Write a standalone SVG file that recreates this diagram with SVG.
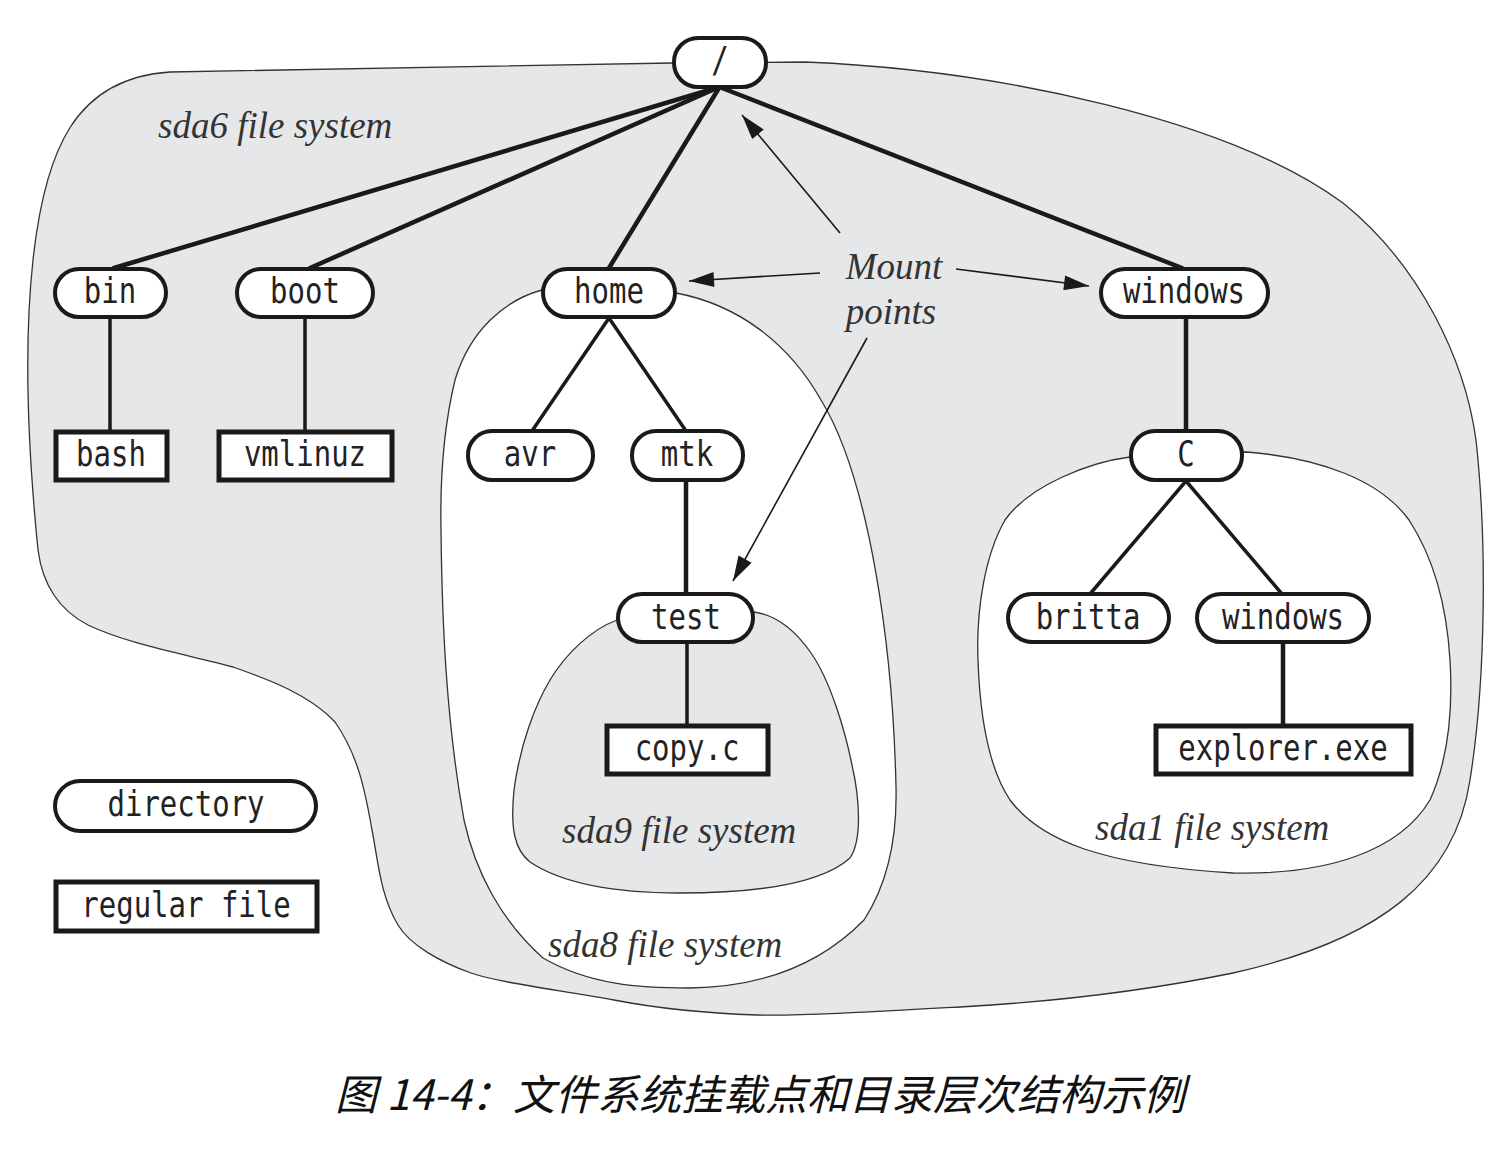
<svg xmlns="http://www.w3.org/2000/svg" width="1504" height="1149" viewBox="0 0 1504 1149">
<defs>
<style>
.region{stroke:#333;stroke-width:1.3;}
.gray{fill:#e6e7e9;}
.white{fill:#fff;}
.edge{stroke:#1a1a1a;stroke-width:4.5;fill:none;stroke-linecap:round;}
.edge2{stroke:#1a1a1a;stroke-width:3.5;fill:none;stroke-linecap:round;}
.arrow{stroke:#1a1a1a;stroke-width:1.6;fill:none;}
.dir{fill:#fff;stroke:#1a1a1a;stroke-width:4;}
.file{fill:#fff;stroke:#1a1a1a;stroke-width:5;}
.lbl{font-family:"DejaVu Sans Mono","Liberation Mono",monospace;font-size:29px;fill:#222;text-anchor:middle;}
.fs{font-family:"Liberation Serif","Times New Roman",serif;font-style:italic;font-size:37px;fill:#333;}
.cap{font-family:"Noto Sans CJK SC","Noto Sans",sans-serif;font-style:italic;font-size:42px;fill:#111;text-anchor:middle;}
</style>
<marker id="ah" viewBox="0 0 20 12" refX="20" refY="6" markerWidth="26" markerHeight="15" orient="auto" markerUnits="userSpaceOnUse">
<path d="M0,0 L20,6 L0,12 z" fill="#1a1a1a"/>
</marker>
</defs>
<rect width="1504" height="1149" fill="#fff"/>

<g id="regions">
<path id="sda6" class="region gray" d="M170,72 L672,63 L805,62 C1000,70 1230,120 1343,203 C1420,265 1465,360 1476,440 C1487,540 1486,680 1470,780 C1455,880 1380,940 1233,973 C1150,990 1050,1002 960,1007 C870,1012 800,1016 757,1015 C700,1013 650,1007 614,1000 C560,990 500,983 471,973 C440,962 410,945 398,925 C380,895 378,860 372,830 C365,790 358,755 335,722 C310,695 270,680 233,667 C190,655 130,645 88,625 C55,608 42,580 38,550 C30,470 22,360 33,260 C45,150 75,78 170,72 Z"/>
<path id="sda8" class="region white" d="M542,290 C505,300 470,330 455,380 C443,430 440,480 441,530 C442,620 446,720 464,820 C475,870 500,920 543,958 C590,985 640,988 690,988 C760,987 820,965 864,920 C890,880 897,830 896,787 C893,650 870,480 821,400 C790,345 740,305 676,293 Z"/>
<path id="sda9" class="region gray" d="M617,620 C590,630 565,655 550,680 C535,705 520,745 514,790 C510,830 515,850 530,862 C560,882 610,893 680,893 C750,893 820,885 850,858 C862,840 860,800 852,765 C845,730 830,680 811,653 C795,630 775,615 754,612 Z"/>
<path id="sda1" class="region white" d="M1130,457 C1090,462 1030,485 1005,520 C985,555 976,610 978,660 C980,720 990,770 1010,800 C1040,840 1100,865 1233,873 C1330,875 1400,850 1430,800 C1448,760 1453,710 1450,660 C1447,610 1435,560 1409,520 C1380,480 1320,458 1247,452 Z"/>
</g>

<g id="region-labels">
<text class="fs" x="158" y="138">sda6 file system</text>
<text class="fs" x="562" y="843">sda9 file system</text>
<text class="fs" x="548" y="957">sda8 file system</text>
<text class="fs" x="1095" y="840">sda1 file system</text>
<text class="fs" x="894" y="279" text-anchor="middle">Mount</text>
<text class="fs" x="891" y="324" text-anchor="middle">points</text>
</g>

<g id="connectors">
<line class="edge" x1="716" y1="88" x2="114" y2="268"/>
<line class="edge" x1="717" y1="88" x2="310" y2="268"/>
<line class="edge" x1="719" y1="88" x2="609" y2="268"/>
<line class="edge" x1="722" y1="88" x2="1182" y2="268"/>
<line class="edge2" x1="110" y1="318" x2="110" y2="431"/>
<line class="edge2" x1="305" y1="318" x2="305" y2="431"/>
<line class="edge2" x1="609" y1="318" x2="532" y2="431"/>
<line class="edge2" x1="609" y1="318" x2="686" y2="431"/>
<line class="edge" x1="686" y1="481" x2="686" y2="594"/>
<line class="edge2" x1="687" y1="643" x2="687" y2="726"/>
<line class="edge" x1="1186" y1="318" x2="1186" y2="431"/>
<line class="edge2" x1="1186" y1="481" x2="1090" y2="594"/>
<line class="edge2" x1="1186" y1="481" x2="1282" y2="594"/>
<line class="edge" x1="1283" y1="643" x2="1283" y2="726"/>
<line class="arrow" x1="840" y1="233" x2="742" y2="115" marker-end="url(#ah)"/>
<line class="arrow" x1="820" y1="273" x2="689" y2="281" marker-end="url(#ah)"/>
<line class="arrow" x1="956" y1="269" x2="1089" y2="286" marker-end="url(#ah)"/>
<line class="arrow" x1="867" y1="338" x2="733" y2="581" marker-end="url(#ah)"/>
</g>

<g id="node-root"><rect class="dir" x="674" y="38" width="92" height="49" rx="24"/><text class="lbl" transform="translate(720,72) scale(1,1.2)">/</text></g>
<g id="node-bin"><rect class="dir" x="55" y="269" width="111" height="48" rx="24"/><text class="lbl" transform="translate(110,303) scale(1,1.2)">bin</text></g>
<g id="node-boot"><rect class="dir" x="237" y="269" width="136" height="48" rx="24"/><text class="lbl" transform="translate(305,303) scale(1,1.2)">boot</text></g>
<g id="node-home"><rect class="dir" x="543" y="269" width="132" height="48" rx="24"/><text class="lbl" transform="translate(609,303) scale(1,1.2)">home</text></g>
<g id="node-windows"><rect class="dir" x="1101" y="269" width="167" height="48" rx="24"/><text class="lbl" transform="translate(1184,303) scale(1,1.2)">windows</text></g>
<g id="node-bash"><rect class="file" x="56" y="432" width="111" height="48"/><text class="lbl" transform="translate(111,466) scale(1,1.2)">bash</text></g>
<g id="node-vmlinuz"><rect class="file" x="219" y="432" width="173" height="48"/><text class="lbl" transform="translate(305,466) scale(1,1.2)">vmlinuz</text></g>
<g id="node-avr"><rect class="dir" x="468" y="431" width="125" height="49" rx="24"/><text class="lbl" transform="translate(530,466) scale(1,1.2)">avr</text></g>
<g id="node-mtk"><rect class="dir" x="632" y="431" width="111" height="49" rx="24"/><text class="lbl" transform="translate(687,466) scale(1,1.2)">mtk</text></g>
<g id="node-C"><rect class="dir" x="1131" y="431" width="111" height="49" rx="24"/><text class="lbl" transform="translate(1186,466) scale(1,1.2)">C</text></g>
<g id="node-test"><rect class="dir" x="618" y="594" width="135" height="48" rx="24"/><text class="lbl" transform="translate(686,629) scale(1,1.2)">test</text></g>
<g id="node-britta"><rect class="dir" x="1008" y="594" width="161" height="48" rx="24"/><text class="lbl" transform="translate(1088,629) scale(1,1.2)">britta</text></g>
<g id="node-windows2"><rect class="dir" x="1197" y="594" width="172" height="48" rx="24"/><text class="lbl" transform="translate(1283,629) scale(1,1.2)">windows</text></g>
<g id="node-copyc"><rect class="file" x="607" y="726" width="161" height="48"/><text class="lbl" transform="translate(687,760) scale(1,1.2)">copy.c</text></g>
<g id="node-explorer"><rect class="file" x="1156" y="726" width="255" height="48"/><text class="lbl" transform="translate(1283,760) scale(1,1.2)">explorer.exe</text></g>

<g id="legend-directory"><rect class="dir" x="55" y="781" width="261" height="50" rx="25"/><text class="lbl" transform="translate(186,816) scale(1,1.2)">directory</text></g>
<g id="legend-file"><rect class="file" x="56" y="882" width="261" height="49"/><text class="lbl" transform="translate(186,917) scale(1,1.2)">regular file</text></g>

<text class="cap" x="760" y="1110">图 14-4：文件系统挂载点和目录层次结构示例</text>
</svg>
